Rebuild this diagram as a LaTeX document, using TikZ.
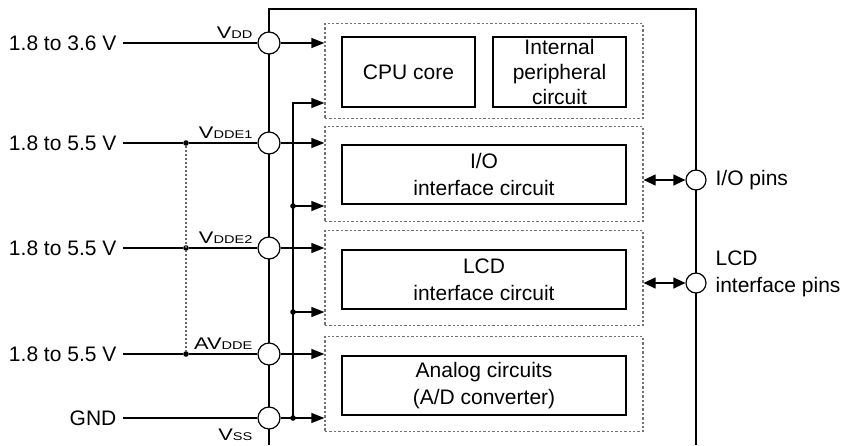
\documentclass[tikz,border=0pt]{standalone}
\usepackage{fontspec}
\setmainfont{Liberation Sans}
\newfontfamily\pinfont[FakeStretch=1.3]{Liberation Sans}
\usetikzlibrary{arrows.meta}
\newcommand{\pinname}[2]{{\pinfont\fontsize{8.4}{10}\selectfont #1\fontsize{5.6}{7}\selectfont #2}}

\begin{document}
\begin{tikzpicture}[x=0.5pt,y=-0.5pt,line width=0.6pt,
	every node/.style={font=\fontsize{10.5}{13.5}\selectfont},
	pin/.style={shape=circle,draw=black,fill=white,minimum size=11pt,inner sep=0pt},
	dot/.style={shape=circle,fill=black,minimum size=2.8pt,inner sep=0pt},
	grp/.style={draw=gray!90!black,line width=0.6pt,dash pattern=on 1.2pt off 1pt,minimum width=159pt,minimum height=47.5pt},
	blk/.style={draw=black,align=center,inner sep=0pt},
	supply/.style={anchor=east,inner sep=3pt},
	arr/.style={-{Triangle[length=6.5pt,width=5pt]}},
	darr/.style={{Triangle[length=6pt,width=5.5pt]}-{Triangle[length=6pt,width=5.5pt]}},
	jumper/.style={draw=gray!80!black,line width=0.6pt,dash pattern=on 1pt off 1pt}]
	\useasboundingbox (0,0) rectangle (844,445);

	% chip outline
	\draw (269,445) -- (269,9) -- (696,9) -- (696,445);

	% functional groups
	\node[grp] (grpcpu) at (484,71)  {};
	\node[grp] (grpio)  at (484,174) {};
	\node[grp] (grplcd) at (484,278) {};
	\node[grp] (grpana) at (484,384) {};
	\node[blk,minimum width=66.5pt,minimum height=35pt] (cpu) at (408.5,72) {CPU core};
	\node[blk,minimum width=66.5pt,minimum height=35pt,font=\fontsize{10.5}{12.3}\selectfont] (per) at (559.5,72) {Internal\\peripheral\\circuit};
	\node[blk,minimum width=142pt,minimum height=29.5pt] (io)  at (484,174.5) {I/O\\interface circuit};
	\node[blk,minimum width=142pt,minimum height=29.5pt] (lcd) at (484,279.5) {LCD\\interface circuit};
	\node[blk,minimum width=142pt,minimum height=29.5pt] (ana) at (484,385.5) {Analog circuits\\(A/D converter)};

	% supply pins
	\node[pin] (vdd)   at (269,43)  {};
	\node[pin] (vdde1) at (269,143) {};
	\node[pin] (vdde2) at (269,248) {};
	\node[pin] (avdde) at (269,354) {};
	\node[pin] (vss)   at (269,418) {};
	\node[anchor=base east,inner sep=0pt] (lvdd)   at (253,38)  {\pinname{V}{DD}};
	\node[anchor=base east,inner sep=0pt] (lvdde1) at (253,138) {\pinname{V}{DDE1}};
	\node[anchor=base east,inner sep=0pt] (lvdde2) at (253,243) {\pinname{V}{DDE2}};
	\node[anchor=base east,inner sep=0pt] (lavdde) at (253,349) {\pinname{AV}{DDE}};
	\node[anchor=base east,inner sep=0pt] (lvss)   at (253,440) {\pinname{V}{SS}};

	% external supplies
	\node[supply] (in0) at (123,43)  {1.8 to 3.6 V};
	\node[supply] (in1) at (123,143) {1.8 to 5.5 V};
	\node[supply] (in2) at (123,248) {1.8 to 5.5 V};
	\node[supply] (in3) at (123,354) {1.8 to 5.5 V};
	\node[supply] (gnd) at (123,418) {GND};
	\node[dot] (j1) at (186,143) {};
	\node[dot] (j2) at (186,248) {};
	\node[dot] (j3) at (186,354) {};
	\draw (in0) -- (vdd);
	\draw (in1) -- (j1) -- (vdde1);
	\draw (in2) -- (j2) -- (vdde2);
	\draw (in3) -- (j3) -- (avdde);
	\draw (gnd) -- (vss);
	\draw[jumper] (j1) -- (j3);

	% supply arrows into the groups
	\draw[arr] (vdd) -- (vdd -| grpcpu.west);
	\draw[arr] (vdde1) -- (vdde1 -| grpio.west);
	\draw[arr] (vdde2) -- (vdde2 -| grplcd.west);
	\draw[arr] (avdde) -- (avdde -| grpana.west);
	\draw[arr] (vss) -- (vss -| grpana.west);

	% ground bus
	\node[dot] (b1) at (293,206) {};
	\node[dot] (b2) at (293,312) {};
	\node[dot] (b3) at (293,418) {};
	\coordinate (btop) at (293,103);
	\draw[arr] (b3.center) -- (btop) -- (btop -| grpcpu.west);
	\draw[arr] (b1.center) -- (b1 -| grpio.west);
	\draw[arr] (b2.center) -- (b2 -| grplcd.west);

	% signal pins
	\node[pin,minimum size=10pt] (iop)  at (696,180) {};
	\node[pin,minimum size=10pt] (lcdp) at (696,283) {};
	\draw[darr] (iop -| grpio.east) -- (iop);
	\draw[darr] (lcdp -| grplcd.east) -- (lcdp);
	\node[anchor=west,inner sep=1.5pt] (liop) at (712,180) {I/O pins};
	\node[anchor=west,inner sep=1.5pt,align=left] (llcdp) at (712,274) {LCD\\interface pins};
\end{tikzpicture}
\end{document}
